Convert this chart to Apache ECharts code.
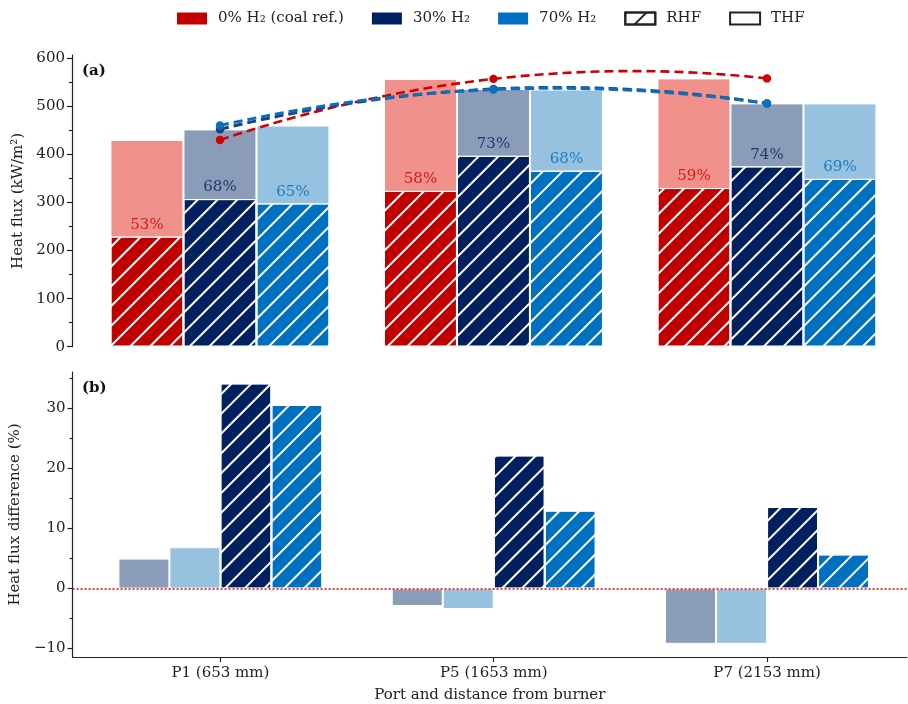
<!DOCTYPE html>
<html>
<head>
<meta charset="utf-8">
<script src="https://cdn.jsdelivr.net/npm/echarts@6/dist/echarts.min.js"></script>
<style>
html,body{margin:0;padding:0;background:#fff;}
#chart{width:908px;height:704px;}
</style>
</head>
<body>
<div id="chart"></div>
<script>
var ports=['P1 (653 mm)','P5 (1653 mm)','P7 (2153 mm)'];
var port_pos=[0,1,2];

// (a) heat flux, kW/m2
var thf_coal=[430,557,558];
var thf_h30=[452,536,506];
var thf_h70=[460,535,506];
var rhf_coal=[229,324,330];
var rhf_h30=[307,397,375];
var rhf_h70=[298,366,349];
var pct_coal=[53,58,59];
var pct_h30=[68,73,74];
var pct_h70=[65,68,69];

// (b) difference vs coal, %
var thf_diff_h30=[5.0,-2.9,-9.2];
var thf_diff_h70=[6.9,-3.4,-9.2];
var rhf_diff_h30=[34.2,22.2,13.6];
var rhf_diff_h70=[30.6,13.0,5.7];

var ticks_a=[0,100,200,300,400,500,600];
var minor_a=[50,150,250,350,450,550];
var ticks_b=[-10,0,10,20,30];
var minor_b=[-5,5,15,25,35];

var SERIF='DejaVu Serif';
var INK='#222';
var C={coal:'#c00000',h30:'#002060',h70:'#0070c0'};
var L={coal:'#f0918c',h30:'#8b9cb9',h70:'#96c2df'};

function hatch(col){
    return {symbol:'rect',symbolSize:1,dashArrayX:[1,0],dashArrayY:[1.5,11.5],rotation:-Math.PI/4,color:col||'#fff'};
}
function pairs(arr){
    var out=[];
    for(var i=0;i<arr.length;i++){ out.push([port_pos[i],arr[i]]); }
    return out;
}

var series=[];
var keys=['coal','h30','h70'];
var thf={coal:thf_coal,h30:thf_h30,h70:thf_h70};
var rhf={coal:rhf_coal,h30:rhf_h30,h70:rhf_h70};
var pct={coal:pct_coal,h30:pct_h30,h70:pct_h70};
var labCol={coal:'#d01c1c',h30:'#1f3a6e',h70:'#1b7cc4'};

// THF (light, behind) on xAxis 0, RHF (hatched, front) on xAxis 1
keys.forEach(function(k){
    series.push({
        name:'thf_'+k,type:'bar',xAxisIndex:0,yAxisIndex:0,barWidth:73,barGap:0,
        data:pairs(thf[k]),
        itemStyle:{color:L[k],borderColor:'#fff',borderWidth:1},
        z:2
    });
});
keys.forEach(function(k){
    series.push({
        name:'rhf_'+k,type:'bar',xAxisIndex:1,yAxisIndex:0,barWidth:73,barGap:0,
        data:pairs(rhf[k]),
        itemStyle:{color:C[k],borderColor:'#fff',borderWidth:1,decal:hatch()},
        label:{show:true,position:'top',distance:4,color:labCol[k],fontFamily:SERIF,fontSize:15,
            formatter:(function(kk){return function(p){return pct[kk][p.dataIndex]+'%';};})(k)},
        z:3
    });
});

// legend-only entries (own hidden axis so they take no bar slot)
var legendNames=['0% H\u2082 (coal ref.)','30% H\u2082','70% H\u2082','RHF','THF'];
series.push({name:legendNames[0],type:'bar',xAxisIndex:2,yAxisIndex:0,data:[],itemStyle:{color:C.coal}});
series.push({name:legendNames[1],type:'bar',xAxisIndex:2,yAxisIndex:0,data:[],itemStyle:{color:C.h30}});
series.push({name:legendNames[2],type:'bar',xAxisIndex:2,yAxisIndex:0,data:[],itemStyle:{color:C.h70}});
series.push({name:'RHF',type:'bar',xAxisIndex:2,yAxisIndex:0,data:[],itemStyle:{color:'#fff',borderColor:INK,borderWidth:1.3,decal:hatch(INK)}});
series.push({name:'THF',type:'bar',xAxisIndex:2,yAxisIndex:0,data:[],itemStyle:{color:'#fff',borderColor:INK,borderWidth:1.3}});

// THF trend curves: one quadratic through the three port values
function trend(key,col,w){
    var arr=thf[key];
    return {
        name:'trend_'+key,type:'custom',xAxisIndex:0,yAxisIndex:0,data:pairs(arr),z:5,
        renderItem:function(params,api){
            var p=api.coord([api.value(0),api.value(1)]);
            var kids=[];
            if(params.dataIndex===0){
                var a=api.coord([port_pos[0],arr[0]]);
                var b=api.coord([port_pos[2],arr[2]]);
                var c=api.coord([(port_pos[0]+port_pos[2])/2,2*arr[1]-(arr[0]+arr[2])/2]);
                kids.push({type:'bezierCurve',
                    shape:{x1:a[0],y1:a[1],x2:b[0],y2:b[1],cpx1:c[0],cpy1:c[1]},
                    style:{stroke:col,lineWidth:w,lineDash:[9,5],fill:null}});
            }
            kids.push({type:'circle',shape:{cx:p[0],cy:p[1],r:4.2},style:{fill:col}});
            return {type:'group',children:kids};
        }
    };
}
series.push(trend('coal','#d00000',2.6));
series.push(trend('h30','#1f4080',3));
series.push(trend('h70','#0a6fbe',3));

// (b)
series.push({name:'d_thf_h30',type:'bar',xAxisIndex:3,yAxisIndex:2,barWidth:51,barGap:0,data:pairs(thf_diff_h30),
    itemStyle:{color:L.h30,borderColor:'#fff',borderWidth:1},
    markLine:{silent:true,symbol:'none',label:{show:false},lineStyle:{color:'#e00000',type:[2,2],width:1.5},data:[{yAxis:0}]},z:2});
series.push({name:'d_thf_h70',type:'bar',xAxisIndex:3,yAxisIndex:2,barWidth:51,barGap:0,data:pairs(thf_diff_h70),
    itemStyle:{color:L.h70,borderColor:'#fff',borderWidth:1},z:2});
series.push({name:'d_rhf_h30',type:'bar',xAxisIndex:3,yAxisIndex:2,barWidth:51,barGap:0,data:pairs(rhf_diff_h30),
    itemStyle:{color:C.h30,borderColor:'#fff',borderWidth:1,decal:hatch()},z:2});
series.push({name:'d_rhf_h70',type:'bar',xAxisIndex:3,yAxisIndex:2,barWidth:51,barGap:0,data:pairs(rhf_diff_h70),
    itemStyle:{color:C.h70,borderColor:'#fff',borderWidth:1,decal:hatch()},z:2});

var tickStyle={color:INK,width:1.2};
function hiddenX(){
    return {type:'value',gridIndex:0,min:-0.541,max:2.512,show:false,splitLine:{show:false}};
}

var option={
    animation:false,
    backgroundColor:'#fff',
    legend:{
        data:legendNames,left:172,top:6,icon:'rect',itemWidth:30,itemHeight:12,itemGap:28,
        textStyle:{color:INK,fontFamily:SERIF,fontSize:15,padding:[0,0,0,6]}
    },
    graphic:[
        {type:'text',left:82,top:64,style:{text:'(a)',font:'bold 15px "DejaVu Serif"',fill:'#111'}},
        {type:'text',left:82,top:381,style:{text:'(b)',font:'bold 15px "DejaVu Serif"',fill:'#111'}}
    ],
    grid:[
        {left:72,right:1,top:55,height:291.7},
        {left:72,right:1,top:372,height:289.7}
    ],
    xAxis:[
        hiddenX(),hiddenX(),hiddenX(),
        {type:'value',gridIndex:1,min:-0.541,max:2.512,
            name:'Port and distance from burner',nameLocation:'middle',nameGap:31,
            nameTextStyle:{color:INK,fontFamily:SERIF,fontSize:15},
            axisLine:{onZero:false,lineStyle:tickStyle},
            axisTick:{customValues:port_pos,length:5,lineStyle:tickStyle},
            axisLabel:{customValues:port_pos,margin:9,color:INK,fontFamily:SERIF,fontSize:15,
                formatter:function(v){return ports[Math.round(v)];}},
            splitLine:{show:false}}
    ],
    yAxis:[
        {type:'value',gridIndex:0,min:0,max:606.7,position:'left',
            name:'Heat flux (kW/m\u00b2)',nameLocation:'middle',nameGap:40,
            nameTextStyle:{color:INK,fontFamily:SERIF,fontSize:15},
            axisLine:{show:true,onZero:false,lineStyle:tickStyle},
            axisTick:{show:true,customValues:ticks_a,length:5,lineStyle:tickStyle},
            axisLabel:{customValues:ticks_a,margin:7,color:INK,fontFamily:SERIF,fontSize:15},
            splitLine:{show:false}},
        {type:'value',gridIndex:0,min:0,max:606.7,position:'left',
            axisLine:{show:false,onZero:false},axisLabel:{show:false},
            axisTick:{show:true,customValues:minor_a,length:3,lineStyle:tickStyle},
            splitLine:{show:false}},
        {type:'value',gridIndex:1,min:-11.4,max:36.1,position:'left',
            name:'Heat flux difference (%)',nameLocation:'middle',nameGap:40,
            nameTextStyle:{color:INK,fontFamily:SERIF,fontSize:15},
            axisLine:{show:true,onZero:false,lineStyle:tickStyle},
            axisTick:{show:true,customValues:ticks_b,length:5,lineStyle:tickStyle},
            axisLabel:{customValues:ticks_b,margin:7,color:INK,fontFamily:SERIF,fontSize:15,
                formatter:function(v){return v<0?'\u2212'+Math.abs(v):String(v);}},
            splitLine:{show:false}},
        {type:'value',gridIndex:1,min:-11.4,max:36.1,position:'left',
            axisLine:{show:false,onZero:false},axisLabel:{show:false},
            axisTick:{show:true,customValues:minor_b,length:3,lineStyle:tickStyle},
            splitLine:{show:false}}
    ],
    series:series
};

var myChart=echarts.init(document.getElementById('chart'));
myChart.setOption(option);
</script>
</body>
</html>
